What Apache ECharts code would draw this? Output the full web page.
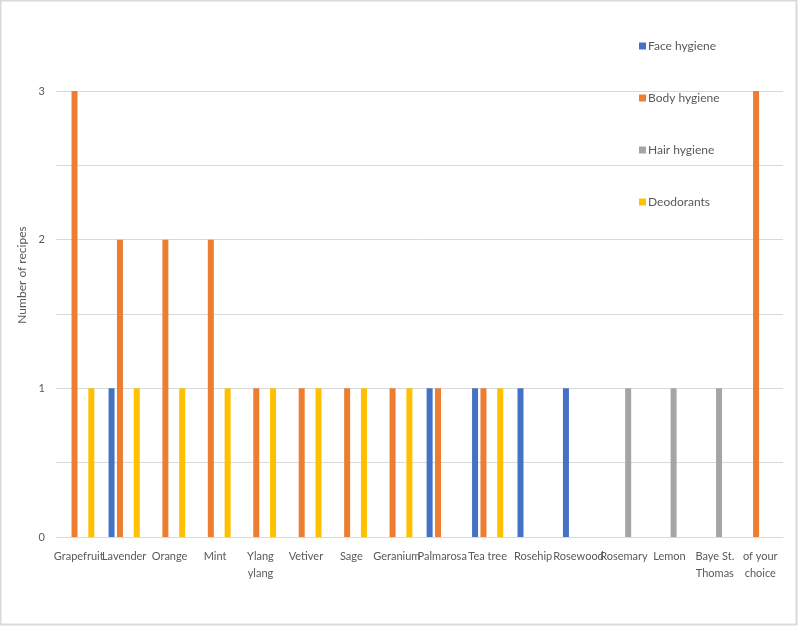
<!DOCTYPE html>
<html>
<head>
<meta charset="utf-8">
<script src="https://cdn.jsdelivr.net/npm/echarts@6/dist/echarts.min.js"></script>
<style>html,body{margin:0;padding:0;background:#fff;}#chart{width:798px;height:627px;}</style>
</head>
<body>
<div id="chart"></div>
<script>
const categories = ['Grapefruit','Lavender','Orange','Mint','Ylang\nylang','Vetiver','Sage','Geranium','Palmarosa','Tea tree','Rosehip','Rosewood','Rosemary','Lemon','Baye St.\nThomas','of your\nchoice'];
const faceHygiene = [null,1,null,null,null,null,null,null,1,1,1,1,null,null,null,null];
const bodyHygiene = [3,2,2,2,1,1,1,1,1,1,null,null,null,null,null,3];
const hairHygiene = [null,null,null,null,null,null,null,null,null,null,null,null,1,1,1,null];
const deodorants = [1,1,1,1,1,1,1,1,null,1,null,null,null,null,null,null];
const seriesNames = ['Face hygiene','Body hygiene','Hair hygiene','Deodorants'];
const colors = ['#4472C4','#ED7D31','#A5A5A5','#FFC000'];
const values = [faceHygiene, bodyHygiene, hairHygiene, deodorants];

const chart = echarts.init(document.getElementById('chart'), null, {renderer:'canvas'});
const font = 'Lato, "Open Sans", sans-serif';
chart.setOption({
  animation: false,
  color: colors,
  textStyle: {fontFamily: font},
  grid: {left: 56, right: 15, top: 91, bottom: 90, containLabel: false},
  legend: {
    orient: 'vertical', left: 634, top: 35,
    itemWidth: 7, itemHeight: 7, itemGap: 40,
    icon: 'rect',
    textStyle: {color: '#595959', fontSize: 12, fontFamily: font, padding: [0,0,0,-3]},
    data: seriesNames
  },
  xAxis: {
    type: 'category', data: categories,
    axisTick: {show: false},
    axisLine: {lineStyle: {color: '#d9d9d9'}},
    axisLabel: {color: '#595959', fontSize: 11, fontFamily: font, interval: 0, margin: 11, lineHeight: 17}
  },
  yAxis: {
    type: 'value', min: 0, max: 3, interval: 0.5,
    axisLabel: {color: '#595959', fontSize: 11, fontFamily: font, margin: 11, formatter: v => (v % 1 === 0 ? String(v) : '')},
    splitLine: {lineStyle: {color: '#d9d9d9'}},
    axisLine: {show: false}, axisTick: {show: false}
  },
  graphic: [
    {type: 'rect', shape: {x: 0.5, y: 0.5, width: 796, height: 624}, style: {fill: 'none', stroke: '#d9d9d9', lineWidth: 2}, silent: true},
    {type: 'text', x: 22, y: 275, rotation: Math.PI/2, style: {text: 'Number of recipes', fill: '#595959', font: '12px ' + font, align: 'center', verticalAlign: 'middle'}}
  ],
  series: seriesNames.map((n, i) => ({
    name: n, type: 'bar', data: values[i], barWidth: 6, barGap: '40%'
  }))
});
</script>
</body>
</html>
